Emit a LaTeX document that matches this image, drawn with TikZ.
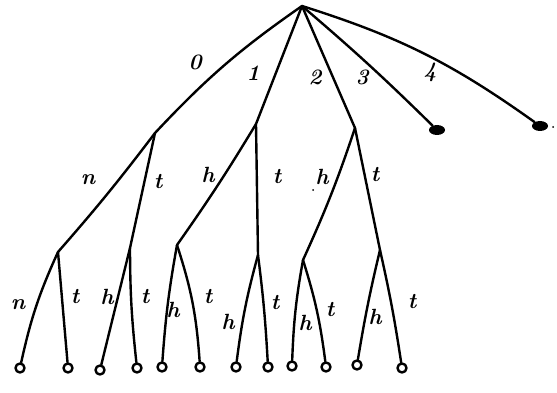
\documentclass[tikz,border=0pt]{standalone}
\usetikzlibrary{shapes.geometric}
\begin{document}
\begin{tikzpicture}[x=1pt,y=-1pt, line cap=round, line join=round,
  br/.style={draw, line width=2.4pt},
  lbl/.style={font=\fontsize{22}{22}\selectfont\bfseries\itshape, inner sep=0pt},
  leaf/.style={circle, draw, line width=2.4pt, minimum size=9pt, inner sep=0pt, fill=white},
  bigleaf/.style={ellipse, fill=black, minimum width=16pt, minimum height=10pt, inner sep=0pt},
  pt/.style={inner sep=0pt, minimum size=0pt}]
\useasboundingbox (0,0) rectangle (557,393);
% internal nodes
\coordinate (r) at (302,6);
\coordinate (a) at (155,133);
\coordinate (b) at (256,124);
\coordinate (c) at (355,128);
\node[bigleaf] (d) at (437,130) {};
\node[bigleaf] (e) at (540,126) {};
\coordinate (aa) at (58,252);
\coordinate (ab) at (130,248);
\coordinate (ba) at (177,245);
\coordinate (bb) at (258,255);
\coordinate (ca) at (303,260);
\coordinate (cb) at (380,250);
% leaves
\node[leaf] (l1) at (20,368) {};
\node[leaf] (l2) at (68,368) {};
\node[leaf] (l3) at (100,370) {};
\node[leaf] (l4) at (137,368) {};
\node[leaf] (l5) at (162,367) {};
\node[leaf] (l6) at (200,367) {};
\node[leaf] (l7) at (236,367) {};
\node[leaf] (l8) at (268,367) {};
\node[leaf] (l9) at (292,366) {};
\node[leaf] (l10) at (326,367) {};
\node[leaf] (l11) at (357,365) {};
\node[leaf] (l12) at (402,368) {};
% level 1
\draw[br] (r) to[bend right=6] (a);
\draw[br] (r) -- (b);
\draw[br] (r) -- (c);
\draw[br] (r) to[bend left=2] (d);
\draw[br] (r) to[bend left=9] (e);
% level 2
\draw[br] (a) to[bend left=2] (aa);
\draw[br] (a) -- (ab);
\draw[br] (b) to[bend left=2] (ba);
\draw[br] (b) -- (bb);
\draw[br] (c) to[bend left=3] (ca);
\draw[br] (c) -- (cb);
% level 3
\draw[br] (aa) to[bend right=6] (l1);
\draw[br] (aa) -- (l2);
\draw[br] (ab) -- (l3);
\draw[br] (ab) to[bend right=3] (l4);
\draw[br] (ba) to[bend right=3] (l5);
\draw[br] (ba) to[bend left=7] (l6);
\draw[br] (bb) to[bend right=4] (l7);
\draw[br] (bb) to[bend left=2] (l8);
\draw[br] (ca) to[bend right=4] (l9);
\draw[br] (ca) to[bend left=5] (l10);
\draw[br] (cb) to[bend right=2] (l11);
\draw[br] (cb) to[bend left=2] (l12);
% labels level 1
\node[lbl] (t0) at (195,62) {0};
\node[lbl] (t1) at (253,73) {1};
\node[lbl] (t2) at (315,77) {2};
\node[lbl] (t3) at (362,77) {3};
\node[lbl] (t4) at (430,72) {4};
% labels level 2
\node[lbl] (u1) at (88,180) {n};
\node[lbl] (u2) at (158,182) {t};
\node[lbl] (u3) at (208,175) {h};
\node[lbl] (u4) at (277,177) {t};
\node[lbl] (u5) at (322,177) {h};
\node[lbl] (u6) at (375,175) {t};
% labels level 3
\node[lbl] (v1) at (18,305) {n};
\node[lbl] (v2) at (75,297) {t};
\node[lbl] (v3) at (107,297) {h};
\node[lbl] (v4) at (145,297) {t};
\node[lbl] (v5) at (173,310) {h};
\node[lbl] (v6) at (208,297) {t};
\node[lbl] (v7) at (228,322) {h};
\node[lbl] (v8) at (275,303) {t};
\node[lbl] (v9) at (305,323) {h};
\node[lbl] (v10) at (330,310) {t};
\node[lbl] (v11) at (375,317) {h};
\node[lbl] (v12) at (412,302) {t};
% stray dots
\fill (313,190) circle (1pt);
\fill (553,127) circle (1pt);
\end{tikzpicture}
\end{document}
